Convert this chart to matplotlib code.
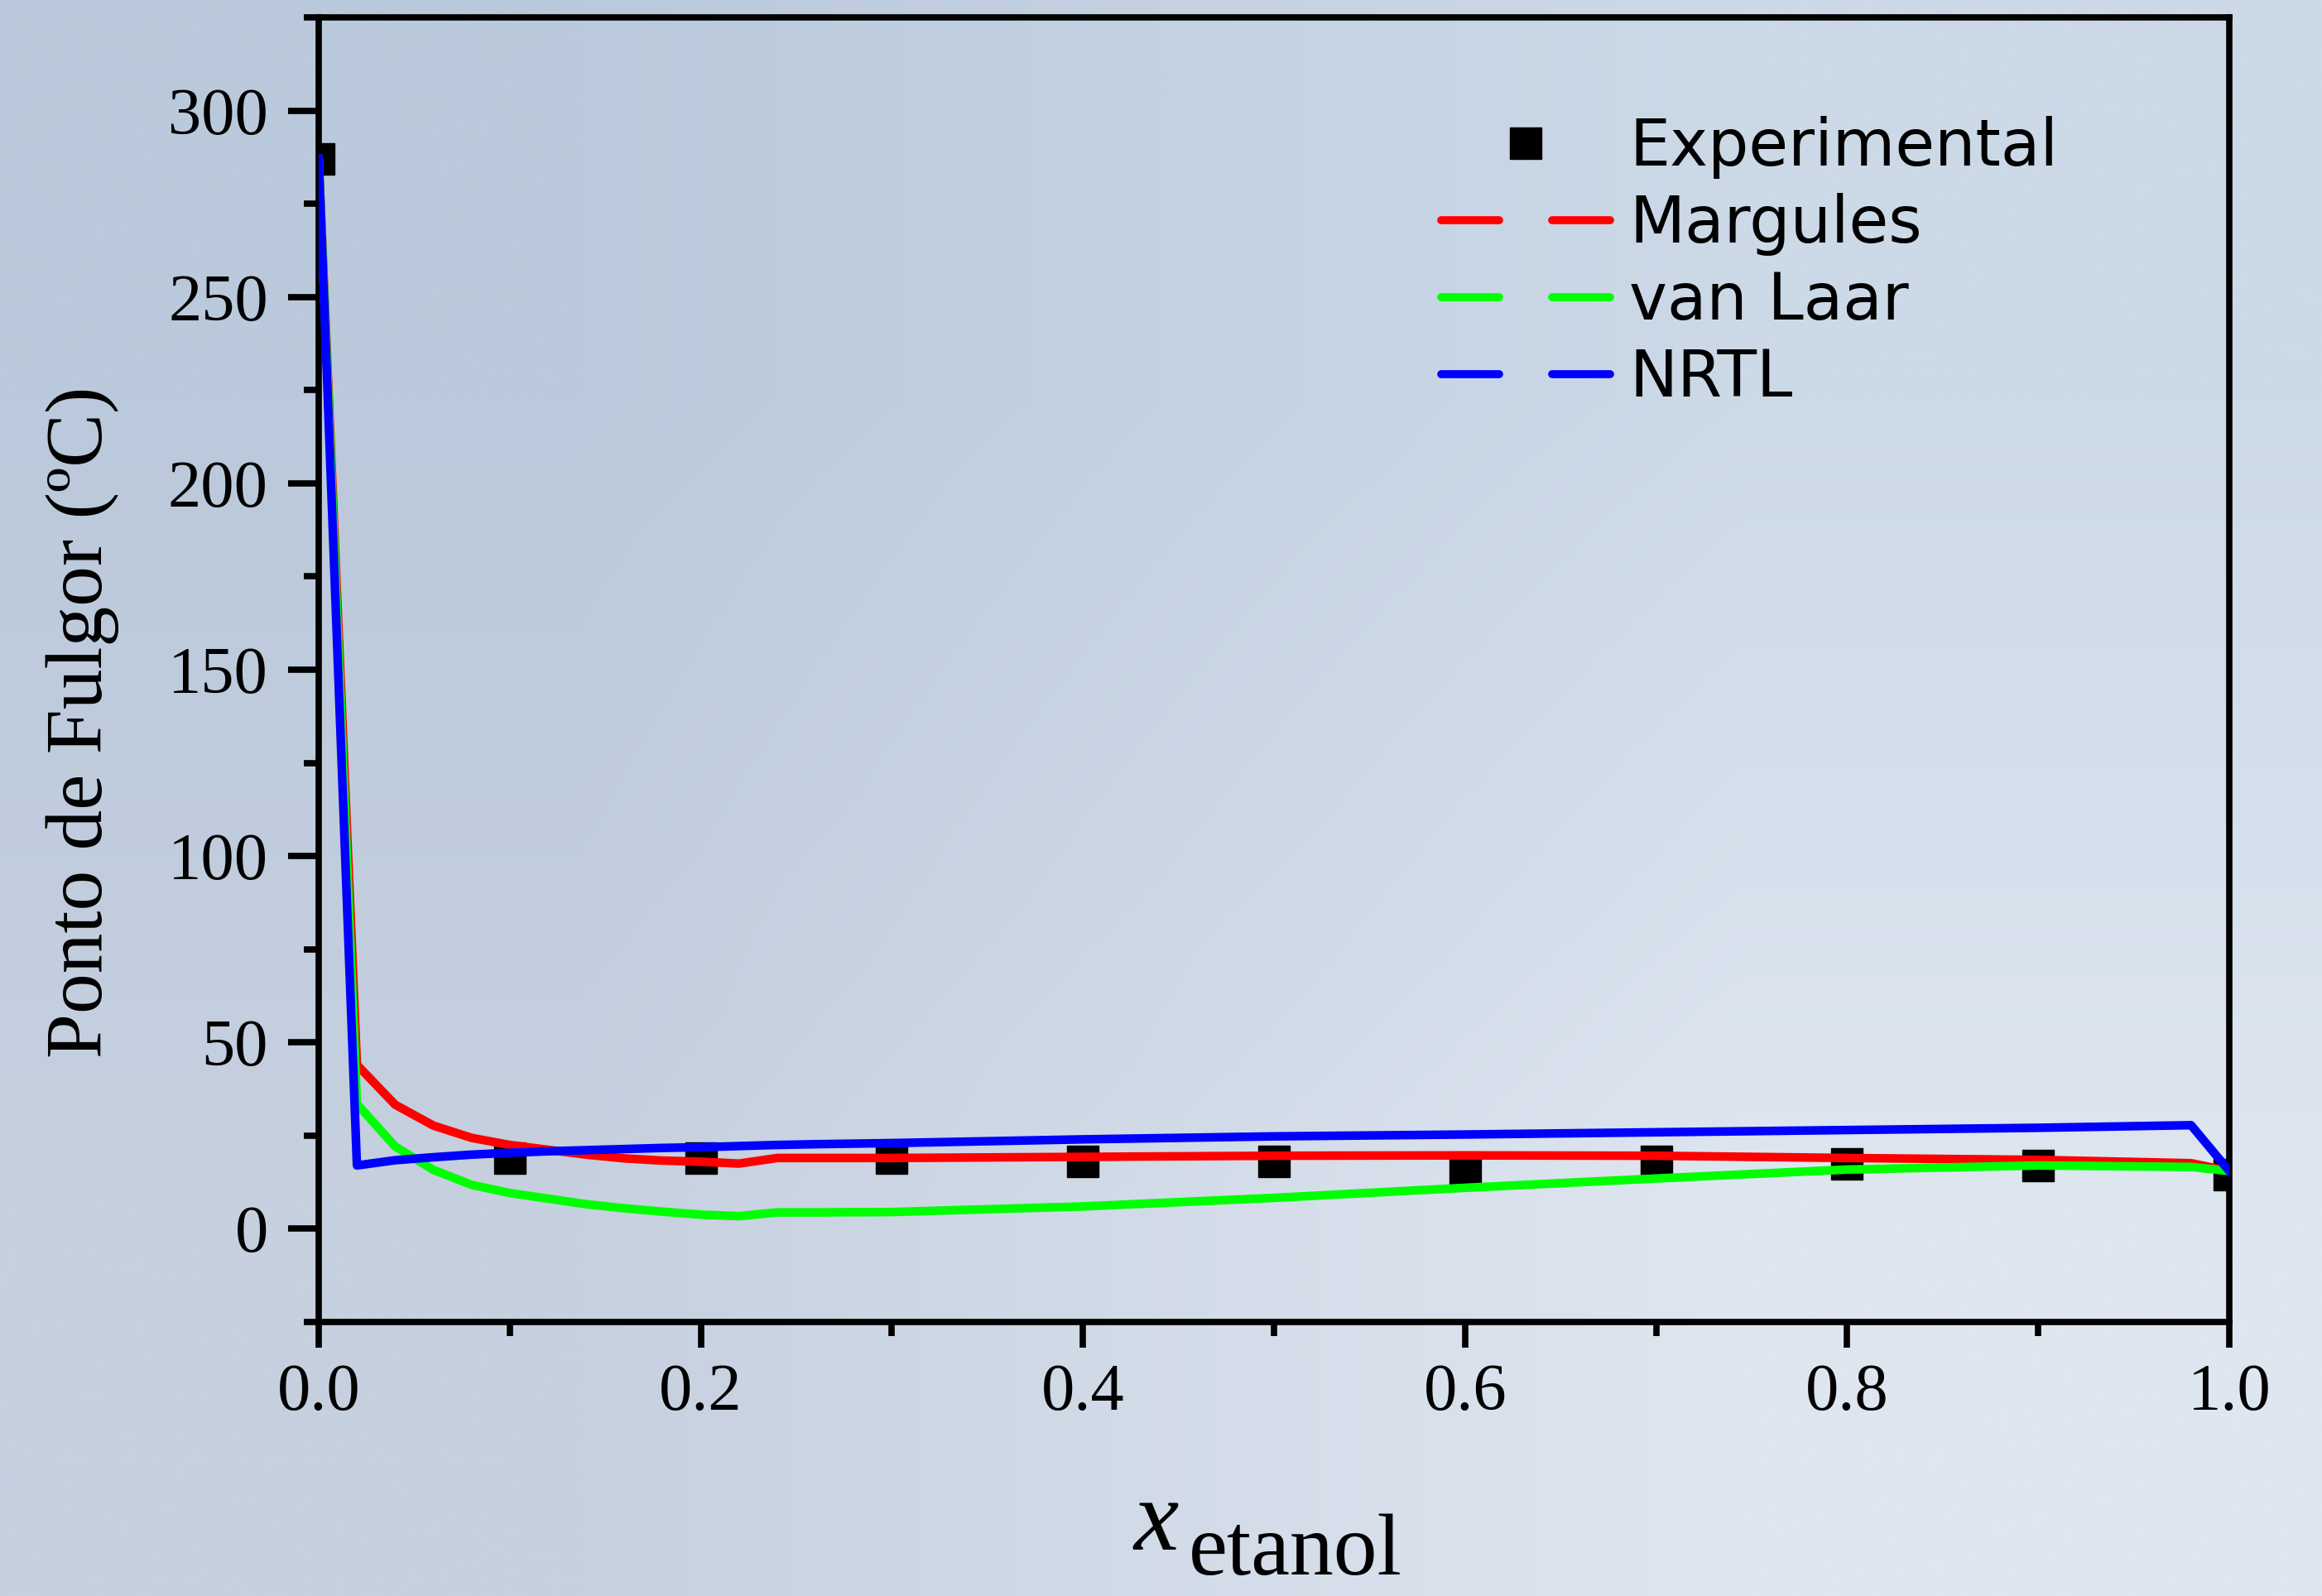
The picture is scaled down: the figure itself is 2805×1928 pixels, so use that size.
import numpy as np
import matplotlib
matplotlib.use("Agg")
import matplotlib.pyplot as plt
from matplotlib.lines import Line2D
from matplotlib.legend_handler import HandlerTuple
from matplotlib.ticker import MultipleLocator

plt.rcParams['font.family'] = ['Liberation Serif', 'DejaVu Serif']

# experimental flash points
x_exp = [0.0, 0.1, 0.2, 0.3, 0.4, 0.5, 0.6, 0.7, 0.8, 0.9, 1.0]
t_exp = [287, 19, 19, 19, 18, 18, 16, 18, 17.5, 17, 14.5]

# model curves
x_mod = [0.0, 0.02, 0.04, 0.06, 0.08, 0.10, 0.12, 0.14, 0.16, 0.18, 0.20, 0.22,
         0.24, 0.26, 0.3, 0.4, 0.5, 0.6, 0.7, 0.8, 0.9, 0.98, 1.0]
t_margules = [287, 44, 33.3, 27.7, 24.4, 22.5, 21.2, 19.9, 18.9, 18.3, 18.0, 17.5,
              19.0, 19.0, 19.0, 19.3, 19.6, 19.7, 19.6, 19.0, 18.5, 17.6, 15.5]
t_vanlaar = [287, 33.5, 22.1, 15.8, 11.8, 9.6, 8.1, 6.6, 5.5, 4.6, 3.8, 3.4,
             4.4, 4.4, 4.5, 6.0, 8.3, 11.0, 13.5, 15.9, 17.0, 16.6, 15.5]
t_nrtl = [287, 17.0, 18.4, 19.2, 19.9, 20.4, 20.8, 21.1, 21.4, 21.7, 21.9, 22.2,
          22.5, 22.7, 23.0, 24.0, 24.8, 25.3, 25.9, 26.5, 27.1, 27.8, 15.5]

labels = ['Experimental', 'Margules', 'van Laar', 'NRTL']
colors = ['#FF0000', '#00FF00', '#0000FF']

W, H = 2805, 1928
fig = plt.figure(figsize=(W / 100, H / 100), dpi=100)

# soft blue background
bg = fig.add_axes([0, 0, 1, 1], zorder=-10)
corners = np.array([[[0xBA, 0xC9, 0xDB], [0xCC, 0xD9, 0xE7]],
                    [[0xC6, 0xD0, 0xDF], [0xDE, 0xE6, 0xF0]]]) / 255.0
bg.imshow(corners, interpolation='bilinear', aspect='auto', extent=[0, 1, 0, 1])
bg.axis('off')

ax = fig.add_axes([385 / W, 1 - 1597 / H, (2693 - 385) / W, (1597 - 21) / H])
ax.patch.set_alpha(0)

ax.plot(x_exp, t_exp, ls='none', marker='s', ms=28, color='black', zorder=2)
for t, c in zip([t_margules, t_vanlaar, t_nrtl], colors):
    ax.plot(x_mod, t, color=c, lw=7.5, zorder=3)

ax.set_xlim(0, 1.0)
ax.set_ylim(-25, 325)
ax.xaxis.set_major_locator(MultipleLocator(0.2))
ax.xaxis.set_minor_locator(MultipleLocator(0.1))
ax.yaxis.set_major_locator(MultipleLocator(50))
ax.yaxis.set_minor_locator(MultipleLocator(25))
ax.set_xticks([0.0, 0.2, 0.4, 0.6, 0.8, 1.0])
ax.set_xticklabels(['0.0', '0.2', '0.4', '0.6', '0.8', '1.0'])
ax.set_yticks([0, 50, 100, 150, 200, 250, 300])

for s in ax.spines.values():
    s.set_linewidth(5.5)
ax.tick_params(axis='y', which='major', length=27, width=5.5, pad=17, labelsize=58)
ax.tick_params(axis='y', which='minor', length=13, width=5.5)
ax.tick_params(axis='x', which='major', length=22, width=5.5, pad=14, labelsize=58)
ax.tick_params(axis='x', which='minor', length=12, width=5.5)

fig.text(100 / W, 1 - 872 / H, 'Ponto de Fulgor (ºC)', rotation=90,
         ha='center', va='center', fontsize=70)
fig.text(1370 / W, 1 - 1872 / H, 'x', style='italic', fontsize=88,
         ha='left', va='baseline')
fig.text(1436 / W, 1 - 1902 / H, 'etanol', fontsize=76, ha='left', va='baseline')

handles = [Line2D([], [], ls='none', marker='s', ms=28, color='black')]
for c in colors:
    seg = Line2D([], [], color=c, lw=7, solid_capstyle='round')
    handles.append((seg, seg))
fig.legend(handles, labels, loc='upper left', bbox_to_anchor=(1741 / W, 1 - 140 / H),
           frameon=False, borderpad=0, borderaxespad=0, handlelength=2.62,
           handletextpad=0.3, labelspacing=0.22,
           handler_map={tuple: HandlerTuple(ndivide=2, pad=0.82)},
           prop={'family': 'DejaVu Sans', 'size': 56})

fig.savefig('out.png', dpi=100)
